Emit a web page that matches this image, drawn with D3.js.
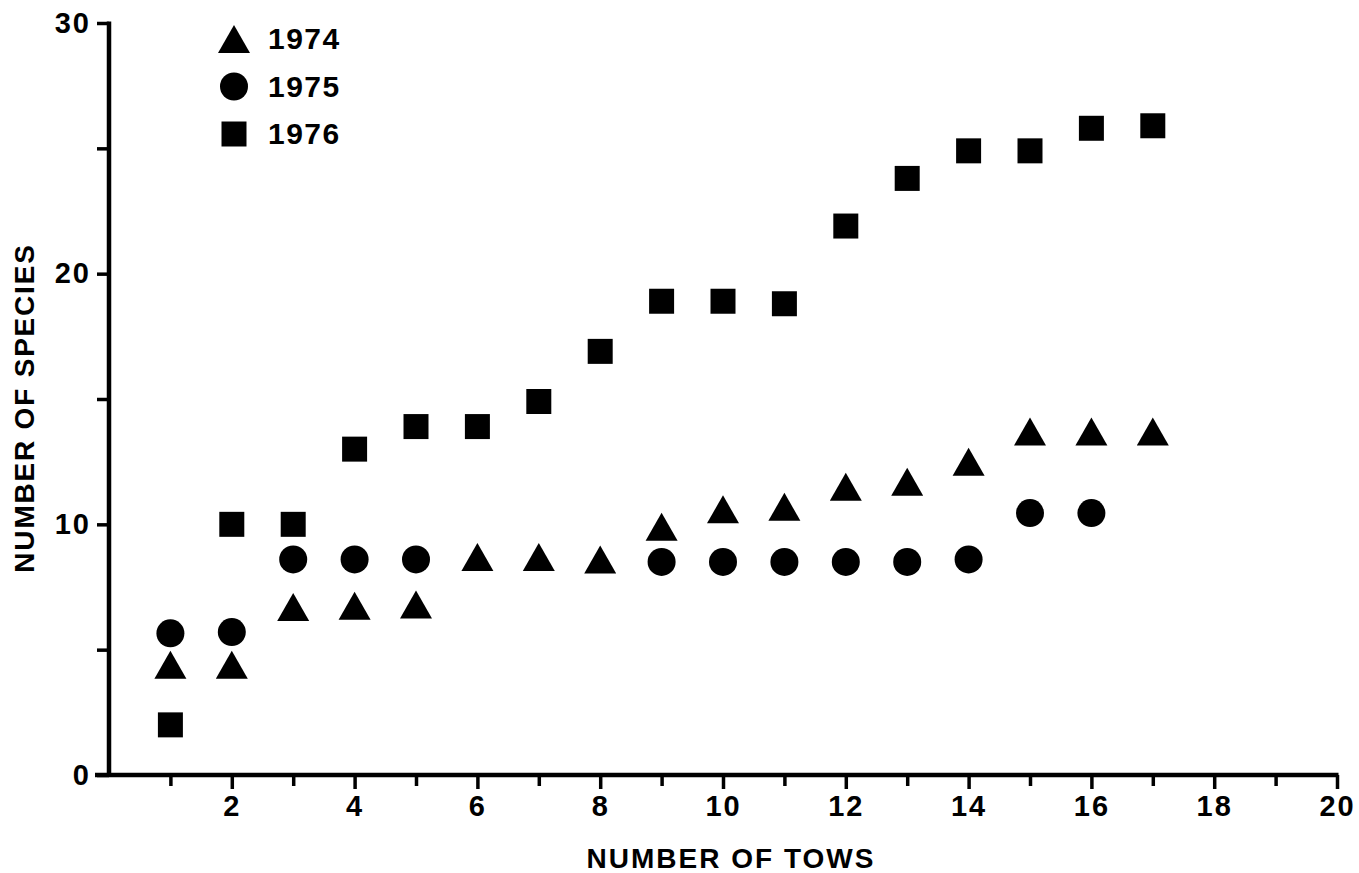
<!DOCTYPE html>
<html>
<head>
<meta charset="utf-8">
<script src="https://cdn.jsdelivr.net/npm/d3@7"></script>
<style>
  body { margin: 0; background: #fff; }
  svg { display: block; font-family: "Liberation Sans", Arial, Helvetica, sans-serif; font-weight: bold; }
</style>
</head>
<body>
<svg id="chart" width="1359" height="873"></svg>
<script>
// number of tows
const tows1974 = [1, 2, 3, 4, 5, 6, 7, 8, 9, 10, 11, 12, 13, 14, 15, 16, 17];
const tows1975 = [1, 2, 3, 4, 5, 9, 10, 11, 12, 13, 14, 15, 16];
const tows1976 = [1, 2, 3, 4, 5, 6, 7, 8, 9, 10, 11, 12, 13, 14, 15, 16, 17];

// cumulative number of species
const species1974 = [4.4, 4.4, 6.7, 6.75, 6.8, 8.7, 8.7, 8.6, 9.9, 10.6, 10.7, 11.5, 11.7, 12.5, 13.7, 13.7, 13.7];
const species1975 = [5.65, 5.7, 8.6, 8.6, 8.6, 8.5, 8.5, 8.5, 8.5, 8.5, 8.6, 10.45, 10.45];
const species1976 = [2.0, 10.0, 10.0, 13.0, 13.9, 13.9, 14.9, 16.9, 18.9, 18.9, 18.8, 21.9, 23.8, 24.9, 24.9, 25.8, 25.9];

const years = ["1974", "1975", "1976"];
const xMajorTicks = [2, 4, 6, 8, 10, 12, 14, 16, 18, 20];
const xMinorTicks = [1, 3, 5, 7, 9, 11, 13, 15, 17, 19];
const yMajorTicks = [0, 10, 20, 30];
const yMinorTicks = [5, 15, 25];

const svg = d3.select("#chart");

const x = d3.scaleLinear().domain([0, 20]).range([109, 1337]);
const y = d3.scaleLinear().domain([0, 30]).range([775, 23]);

// marker shapes, centred on their bounding box
function triangle(p) {
    p.moveTo(-16, 14); p.lineTo(0, -14); p.lineTo(16, 14); p.closePath();
    return p;
}
function square(p) {
    p.rect(-12.5, -12.5, 25, 25);
    return p;
}
function circle(p) {
    p.arc(0, 0, 14, 0, 2 * Math.PI);
    return p;
}
const shapes = { "1974": triangle, "1975": circle, "1976": square };

const series = [
    { year: "1974", points: tows1974.map((t, i) => ({ t: t, s: species1974[i] })) },
    { year: "1975", points: tows1975.map((t, i) => ({ t: t, s: species1975[i] })) },
    { year: "1976", points: tows1976.map((t, i) => ({ t: t, s: species1976[i] })) }
];

// axes
const axisColor = "#000";
const axisWidth = 4.5;

svg.append("g")
    .attr("transform", "translate(0,775)")
    .call(d3.axisBottom(x).tickValues(xMinorTicks).tickSize(11).tickFormat(""))
    .call(g => g.select(".domain").remove());

const xAxis = svg.append("g")
    .attr("transform", "translate(0,775)")
    .call(d3.axisBottom(x).tickValues(xMajorTicks).tickSize(14).tickPadding(6).tickFormat(d3.format("d")))
    .call(g => g.select(".domain").remove());
xAxis.selectAll("text")
    .attr("font-size", 29).attr("letter-spacing", 2)
    .attr("font-family", null).attr("fill", "#000");

svg.append("g")
    .attr("transform", "translate(109,0)")
    .call(d3.axisLeft(y).tickValues(yMinorTicks).tickSize(12).tickFormat(""))
    .call(g => g.select(".domain").remove());

const yAxis = svg.append("g")
    .attr("transform", "translate(109,0)")
    .call(d3.axisLeft(y).tickValues(yMajorTicks).tickSize(12).tickPadding(6).tickFormat(d3.format("d")))
    .call(g => g.select(".domain").remove());
yAxis.selectAll("text")
    .attr("font-size", 29).attr("letter-spacing", 2)
    .attr("font-family", null).attr("fill", "#000");

svg.selectAll(".tick line").attr("stroke", axisColor).attr("stroke-width", 3.5);

svg.append("line")
    .attr("x1", x(0) - 14).attr("x2", x(20) + 1.5)
    .attr("y1", y(0)).attr("y2", y(0))
    .attr("stroke", axisColor).attr("stroke-width", axisWidth);
svg.append("line")
    .attr("x1", x(0)).attr("x2", x(0))
    .attr("y1", y(0) + 2).attr("y2", y(30) - 1.5)
    .attr("stroke", axisColor).attr("stroke-width", axisWidth);

// axis titles
svg.append("text")
    .attr("x", 731).attr("y", 868)
    .attr("text-anchor", "middle")
    .attr("font-size", 28)
    .attr("letter-spacing", 2)
    .text("NUMBER OF TOWS");

svg.append("text")
    .attr("transform", "translate(34,408) rotate(-90)")
    .attr("text-anchor", "middle")
    .attr("font-size", 28)
    .attr("letter-spacing", 1.8)
    .text("NUMBER OF SPECIES");

// points
series.forEach(d => {
    svg.append("g").selectAll("path")
        .data(d.points)
        .join("path")
        .attr("transform", p => "translate(" + x(p.t) + "," + y(p.s) + ")")
        .attr("d", () => shapes[d.year](d3.path()).toString())
        .attr("fill", "#000");
});

// legend
const legendY = d3.scalePoint().domain(years).range([39, 134]);
const legend = svg.append("g");
years.forEach(yr => {
    legend.append("path")
        .attr("transform", "translate(234," + legendY(yr) + ")")
        .attr("d", shapes[yr](d3.path()).toString())
        .attr("fill", "#000");
    legend.append("text")
        .attr("x", 268).attr("y", legendY(yr) + 10)
        .attr("font-size", 30)
        .attr("letter-spacing", 1.5)
        .text(yr);
});
</script>
</body>
</html>
